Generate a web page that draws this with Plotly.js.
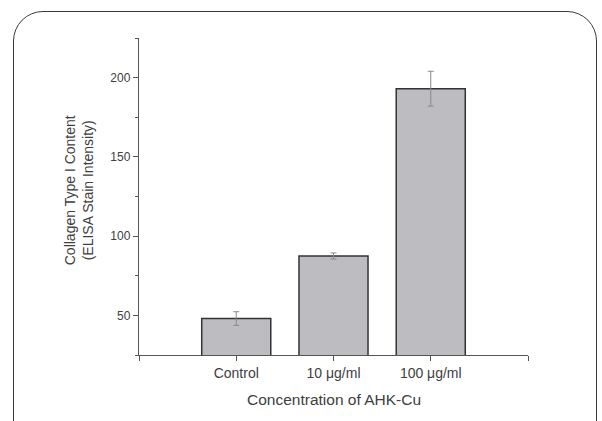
<!DOCTYPE html>
<html>
<head>
<meta charset="utf-8">
<script src="https://cdn.plot.ly/plotly-3.0.1.min.js"></script>
<style>
html,body{margin:0;padding:0;background:#fff;overflow:hidden;}
#wrap{position:relative;width:602px;height:421px;overflow:hidden;}
#chart{position:absolute;left:0;top:0;width:602px;height:421px;}
#frame{position:absolute;left:13px;top:11px;width:584px;height:440px;border:1.5px solid #3a3a3a;border-radius:30px;pointer-events:none;box-sizing:border-box;}
</style>
</head>
<body>
<div id="wrap">
<div id="chart"></div>
<div id="frame"></div>
</div>
<script>
const categories = ['Control', '10 μg/ml', '100 μg/ml'];
const positions = [1, 2, 3];
const values = [48, 87.5, 193];
const errors = [4.3, 1.9, 11];
const yTicks = [50, 100, 150, 200];
const xTitle = 'Concentration of AHK-Cu';
const yTitle = 'Collagen Type I Content<br>(ELISA Stain Intensity)';

const trace = {
  type: 'bar',
  x: positions,
  y: values,
  width: 0.71,
  marker: {color: '#bdbdc1', line: {color: '#333333', width: 1.5}},
  error_y: {type: 'data', array: errors, visible: true, color: '#8a8a8a', thickness: 1, width: 3},
  hoverinfo: 'skip'
};

const layout = {
  width: 602, height: 421,
  margin: {l: 139, r: 74, t: 38, b: 66},
  paper_bgcolor: '#ffffff', plot_bgcolor: 'rgba(0,0,0,0)',
  showlegend: false,
  font: {family: 'Liberation Sans, Arial, sans-serif', color: '#404040'},
  xaxis: {
    range: [0, 4],
    tickvals: [0].concat(positions, [4]),
    ticktext: [''].concat(categories, ['']),
    ticks: 'outside', ticklen: 5, tickcolor: '#555', tickwidth: 1,
    showline: true, linecolor: '#555', linewidth: 1.2,
    showgrid: false, zeroline: false,
    tickfont: {size: 14, color: '#404040'}
  },
  yaxis: {
    range: [25, 225],
    tickvals: yTicks,
    ticks: 'outside', ticklen: 5, tickcolor: '#555', tickwidth: 1,
    minor: {dtick: 25, tick0: 0, ticks: 'outside', ticklen: 3, tickcolor: '#555', tickwidth: 1},
    showline: true, linecolor: '#555', linewidth: 1.2,
    showgrid: false, zeroline: false,
    tickfont: {size: 12, color: '#404040'}
  },
  annotations: [
    {text: xTitle, xref: 'paper', yref: 'paper', x: 0.5, y: -0.139, xanchor: 'center', yanchor: 'middle',
     showarrow: false, font: {size: 15.5, color: '#404040'}},
    {text: yTitle, xref: 'paper', yref: 'paper', x: -0.154, y: 0.52, xanchor: 'center', yanchor: 'middle',
     textangle: -90, showarrow: false, font: {size: 14, color: '#404040'}}
  ]
};

Plotly.newPlot('chart', [trace], layout, {displayModeBar: false, staticPlot: true});
</script>
</body>
</html>
